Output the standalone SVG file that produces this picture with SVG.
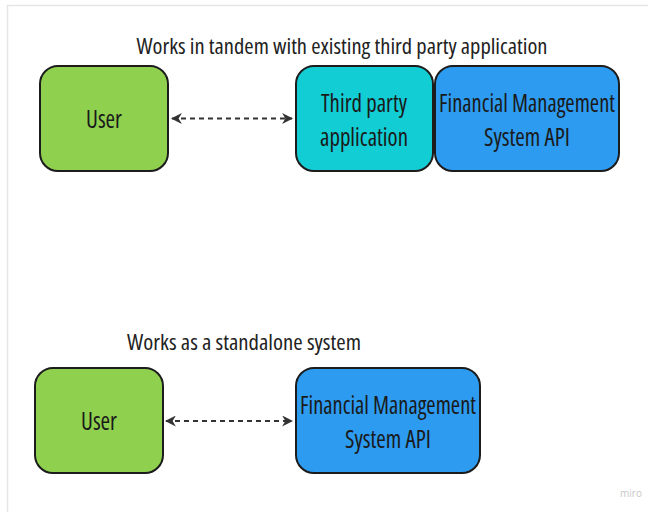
<svg xmlns="http://www.w3.org/2000/svg" width="648" height="512" viewBox="0 0 648 512">
<defs>
<style>
.node{stroke:#1c1c1c;stroke-width:2}
.t{font-family:"Open Sans","Liberation Sans",sans-serif;font-stretch:condensed;fill:#1a1a1a;text-anchor:middle}
.lbl{font-size:25px}
.ttl{font-size:22px;fill:#222}
.conn{stroke:#333;stroke-width:2;stroke-dasharray:5 4;fill:none}
</style>
<marker id="ah" viewBox="0 0 10 10" refX="9" refY="5" markerWidth="5.5" markerHeight="5.5" orient="auto-start-reverse" markerUnits="strokeWidth">
<path d="M0,0 L10,5 L0,10 L3,5 Z" fill="#333"/>
</marker>
</defs>
<rect x="0" y="0" width="648" height="512" fill="#ffffff"/>
<path d="M7.5,512 V5.5 H648" fill="none" stroke="#e6e6e6" stroke-width="1.5"/>
<text class="t ttl" x="342" y="54" textLength="411" lengthAdjust="spacingAndGlyphs">Works in tandem with existing third party application</text>
<text class="t ttl" x="244" y="350" textLength="234" lengthAdjust="spacingAndGlyphs">Works as a standalone system</text>
<g id="conns">
<line class="conn" x1="172" y1="118.5" x2="292" y2="118.5" marker-start="url(#ah)" marker-end="url(#ah)"/>
<line class="conn" x1="166" y1="421" x2="292" y2="421" marker-start="url(#ah)" marker-end="url(#ah)"/>
</g>
<g id="user1">
<rect class="node" x="40" y="66" width="128" height="105" rx="18" fill="#8fd14f"/>
<text class="t lbl" x="104" y="128" textLength="36" lengthAdjust="spacingAndGlyphs">User</text>
</g>
<g id="third">
<rect class="node" x="296" y="66" width="137" height="105" rx="18" fill="#12cdd4"/>
<text class="t lbl" x="364" y="112" textLength="86" lengthAdjust="spacingAndGlyphs">Third party</text>
<text class="t lbl" x="364" y="146" textLength="88" lengthAdjust="spacingAndGlyphs">application</text>
</g>
<g id="fms1">
<rect class="node" x="435" y="66" width="184" height="105" rx="18" fill="#2d9bf0"/>
<text class="t lbl" x="527" y="112" textLength="176" lengthAdjust="spacingAndGlyphs">Financial Management</text>
<text class="t lbl" x="527" y="146" textLength="86" lengthAdjust="spacingAndGlyphs">System API</text>
</g>
<g id="user2">
<rect class="node" x="35" y="368" width="128" height="105" rx="18" fill="#8fd14f"/>
<text class="t lbl" x="99" y="430" textLength="36" lengthAdjust="spacingAndGlyphs">User</text>
</g>
<g id="fms2">
<rect class="node" x="296" y="368" width="184" height="105" rx="18" fill="#2d9bf0"/>
<text class="t lbl" x="388" y="414" textLength="176" lengthAdjust="spacingAndGlyphs">Financial Management</text>
<text class="t lbl" x="388" y="448" textLength="86" lengthAdjust="spacingAndGlyphs">System API</text>
</g>
<text x="631" y="497" font-family="'Open Sans','Liberation Sans',sans-serif" font-size="10" fill="#c8c8c8" text-anchor="middle">miro</text>
</svg>
